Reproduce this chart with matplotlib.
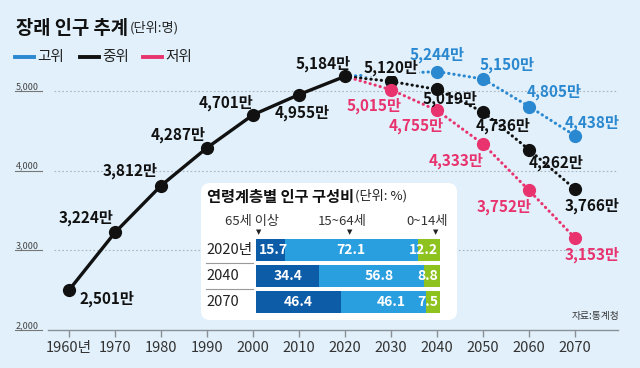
import matplotlib
matplotlib.use("Agg")
import matplotlib.pyplot as plt
from matplotlib.patches import FancyBboxPatch
import matplotlib.transforms as mtransforms

plt.rcParams['font.family'] = ['Noto Sans CJK KR', 'DejaVu Sans']

# ---------------- data ----------------
hist_years = [1960, 1970, 1980, 1990, 2000, 2010, 2020]
hist_vals = [2501, 3224, 3812, 4287, 4701, 4955, 5184]

mid_years = [2030, 2040, 2050, 2060, 2070]
mid_vals = [5120, 5019, 4736, 4262, 3766]

high_years = [2040, 2050, 2060, 2070]
high_vals = [5244, 5150, 4805, 4438]

low_years = [2030, 2040, 2050, 2060, 2070]
low_vals = [5015, 4755, 4333, 3752, 3153]

xtick_years = [1960, 1970, 1980, 1990, 2000, 2010, 2020, 2030, 2040, 2050, 2060, 2070]
xtick_labels = ['1960년', '1970', '1980', '1990', '2000', '2010', '2020', '2030',
                '2040', '2050', '2060', '2070']
ytick_vals = [2000, 3000, 4000, 5000]
ytick_labels = ['2,000', '3,000', '4,000', '5,000']

comp_rows = ['2020년', '2040', '2070']
comp_old = [15.7, 34.4, 46.4]
comp_work = [72.1, 56.8, 46.1]
comp_young = [12.2, 8.8, 7.5]
comp_headers = ['65세 이상', '15~64세', '0~14세']

# ---------------- style ----------------
BG = '#e1f0fa'
BLUE = '#2a88d0'
BLACK = '#111111'
PINK = '#e8336e'
DARK = '#0d5ca8'
LIGHT = '#2a9fe0'
GREEN = '#8dc21f'

W, H = 640, 368
fig = plt.figure(figsize=(6.4, 3.68), dpi=100, facecolor=BG)


def fx(px):
    return px / W


def fy(py):
    return 1 - py / H


# main axes: bottom edge at the x-axis line (y=330px)
ax = fig.add_axes([0, fy(330), 1, fy(0) - fy(330)])
ax.set_facecolor('none')
ax.set_xlim(1945.0, 2084.1)
ax.set_ylim(2000, 6141.8)
for s in ['top', 'right', 'left']:
    ax.spines[s].set_visible(False)
ax.spines['bottom'].set_color('#8a9096')
ax.spines['bottom'].set_linewidth(1.0)
ax.spines['bottom'].set_bounds(1955.4, 2079.3)
ax.set_yticks([])
ax.set_xticks(xtick_years)
ax.set_xticklabels(xtick_labels, fontsize=10.5, color='#333333')
ax.tick_params(axis='x', direction='out', length=5, width=1.0, color='#8a9096', pad=3)

# grid lines + y labels
tr_y = mtransforms.blended_transform_factory(fig.transFigure, ax.transData)
for v, lab in zip(ytick_vals, ytick_labels):
    if v != 2000:
        ax.hlines(v, 1956.7, 2078.8, colors='#aab4bd', linestyles=(0, (1.5, 2)), lw=0.8, zorder=0)
    ax.plot([fx(15), fx(42)], [v, v], color='#777777', lw=0.8, transform=tr_y, clip_on=False)
    ax.text(fx(16), v, lab, transform=tr_y, fontsize=6.5, color='#444444',
            ha='left', va='bottom')

dot = (0, (0.1, 1.6))
# high
ax.plot([hist_years[-1]] + high_years, [hist_vals[-1]] + high_vals, color=BLUE, lw=2.2,
        linestyle=dot, dash_capstyle='round', zorder=2)
ax.plot(high_years, high_vals, 'o', color=BLUE, ms=8.5, zorder=3)
# middle
ax.plot([hist_years[-1]] + mid_years, [hist_vals[-1]] + mid_vals, color=BLACK, lw=2.2,
        linestyle=dot, dash_capstyle='round', zorder=4)
ax.plot(mid_years, mid_vals, 'o', color=BLACK, ms=8.5, zorder=5)
# low
ax.plot([hist_years[-1]] + low_years, [hist_vals[-1]] + low_vals, color=PINK, lw=2.2,
        linestyle=dot, dash_capstyle='round', zorder=6)
ax.plot(low_years, low_vals, 'o', color=PINK, ms=8.5, zorder=7)
# history
ax.plot(hist_years, hist_vals, '-', color=BLACK, lw=2.4, zorder=8)
ax.plot(hist_years, hist_vals, 'o', color=BLACK, ms=8.5, zorder=9)


def lab(x, v, dx, dy, color, bbox=False):
    kw = {}
    if bbox:
        kw['bbox'] = dict(boxstyle='square,pad=0.05', fc=BG, ec='none')
    ax.annotate(f'{v:,}만', (x, v), xytext=(dx, -dy), textcoords='offset pixels',
                ha='center', va='center', fontsize=11, fontweight='bold', color=color,
                zorder=10, **kw)


hist_off = [(38, 9), (-29, -15), (-31, -15), (-29, -13), (-27, -12), (3, 18), (-22, -13)]
for x, v, (dx, dy) in zip(hist_years, hist_vals, hist_off):
    lab(x, v, dx, dy, BLACK)
mid_off = [(0, -14), (13, 9), (20, 14), (27, 13), (17, 16)]
for x, v, (dx, dy) in zip(mid_years, mid_vals, mid_off):
    lab(x, v, dx, dy, BLACK, bbox=(x == 2030))
high_off = [(0, -17), (24, -14), (25, -15), (17, -13)]
for x, v, (dx, dy) in zip(high_years, high_vals, high_off):
    lab(x, v, dx, dy, BLUE)
low_off = [(-17, 16), (-21, 15), (-27, 17), (-25, 16), (17, 17)]
for x, v, (dx, dy) in zip(low_years, low_vals, low_off):
    lab(x, v, dx, dy, PINK)

# title + legend
t = fig.text(fx(16), fy(28), '장래 인구 추계', fontsize=13.5, fontweight='bold',
             color='#111111', ha='left', va='center')
ax.annotate('(단위:명)', xy=(1, 0), xycoords=t, xytext=(1, 2), textcoords='offset points',
            fontsize=9.5, color='#222222', ha='left', va='bottom')

leg_items = [('고위', BLUE), ('중위', BLACK), ('저위', PINK)]
leg_x = [15, 80, 143]
for (name, c), x0 in zip(leg_items, leg_x):
    fig.add_artist(plt.Line2D([fx(x0), fx(x0 + 19)], [fy(57), fy(57)], color=c, lw=2.8,
                              transform=fig.transFigure))
    fig.text(fx(x0 + 22), fy(57), name, fontsize=10.5, color='#222222', ha='left', va='center')

# source
fig.text(fx(619), fy(316), '자료:통계청', fontsize=7, color='#333333', ha='right', va='center')

# ---------------- inset panel ----------------
panel = FancyBboxPatch((201, H - 320), 256, 137, boxstyle='round,pad=0,rounding_size=9',
                       transform=mtransforms.IdentityTransform(), fc='white', ec='none',
                       zorder=20)
fig.add_artist(panel)

bx = fig.add_axes([fx(256), fy(315), fx(440) - fx(256), fy(237) - fy(315)], zorder=22)
bx.set_facecolor('none')
bx.set_xlim(0, 100)
bx.set_ylim(2.5, -0.5)
bx.axis('off')

it = fig.text(fx(207), fy(197), '연령계층별 인구 구성비', fontsize=11, fontweight='bold',
              color='#111111', ha='left', va='center', zorder=21)
bx.annotate('(단위: %)', xy=(1, 0), xycoords=it, xytext=(1, 1.5), textcoords='offset points',
            fontsize=9.5, color='#222222', ha='left', va='bottom', annotation_clip=False)

hdr_x = [252, 342, 427]
tri_x = [259, 350, 436]
for h, x0, tx in zip(comp_headers, hdr_x, tri_x):
    fig.text(fx(x0), fy(222), h, fontsize=9.5, color='#333333', ha='center', va='center', zorder=21)
    fig.text(fx(tx), fy(232), '▼', fontsize=5, color='#222222', ha='center', va='center',
             family=['DejaVu Sans'], zorder=21)

rows = list(range(len(comp_rows)))
bh = 0.84
bx.barh(rows, comp_old, height=bh, color=DARK)
bx.barh(rows, comp_work, left=comp_old, height=bh, color=LIGHT)
left_y = [a + b for a, b in zip(comp_old, comp_work)]
bx.barh(rows, comp_young, left=left_y, height=bh, color=GREEN)

tkw = dict(fontsize=10, fontweight='bold', color='white', va='center')
for r, o, w, yv in zip(rows, comp_old, comp_work, comp_young):
    bx.text(max(o / 2, 9.5), r, f'{o}', ha='center', **tkw)
    bx.text(o + w / 2 + (4 if r > 0 else 0), r, f'{w}', ha='center', **tkw)
    bx.text(100 - 1.2, r, f'{yv}', ha='right', **tkw)

rt = mtransforms.blended_transform_factory(bx.transAxes, bx.transData)
lx = (206 - 256) / 184
for r, name in zip(rows, comp_rows):
    bx.text(lx, r, name, transform=rt, fontsize=10.5, color='#222222', ha='left', va='center')
for r in rows[:-1]:
    bx.plot([lx, -0.015], [r + 0.5, r + 0.5], transform=rt, color='#999999', lw=0.8,
            clip_on=False)

fig.savefig('out.png', dpi=100, facecolor=BG)
